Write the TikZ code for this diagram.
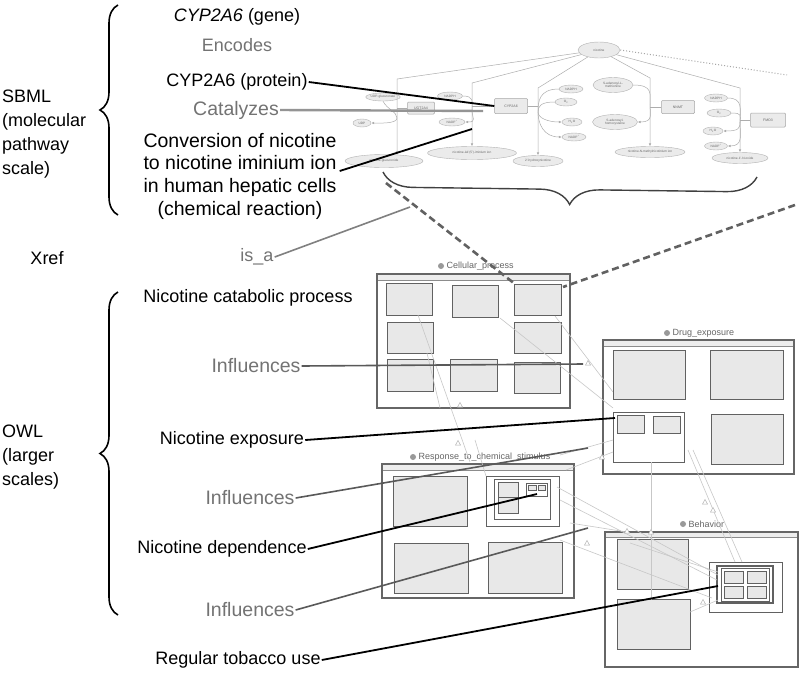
\documentclass[tikz,border=0pt]{standalone}
\usepackage{fontspec}
\setmainfont{Liberation Sans}
\usetikzlibrary{shapes.geometric,decorations.pathreplacing,arrows.meta,calc}
\newcommand\owlframe[5]{%
  \draw[obox] (#1,#2) rectangle (#3,#4);
  \fill[black!7] (#1,#2) rectangle (#3,#5);
  \draw[black!45,line width=0.5pt] (#1,#5) -- (#3,#5);
  \draw[draw=black!60,line width=1.3pt] (#1,#2) rectangle (#3,#4);}
\newcommand\owltri[2]{\draw[black!30,fill=white,line width=0.5pt] (#1,#2) ++(-2.5,2) -- ++(5,0) -- ++(-2.5,-4.5) -- cycle;}
\begin{document}
\begin{tikzpicture}[x=1pt,y=-1pt,
  lab/.style={font=\fontsize{18}{22.7}\selectfont,text=black,inner sep=1pt},
  glab/.style={lab,text=black!55},
  bglab/.style={glab,font=\fontsize{19.5}{22.7}\selectfont},
  side/.style={font=\fontsize{18}{24}\selectfont,text=black,inner sep=1pt,align=left},
  bline/.style={line width=1.8pt,black},
  gline/.style={line width=1.6pt,black!65},
  lgline/.style={line width=2.4pt,black!42},
  brc/.style={decorate,decoration={brace,amplitude=#1},line width=1.6pt,black},
  dsh/.style={line width=2.6pt,black!62,dash pattern=on 7pt off 4pt},
  obox/.style={draw=black!60,line width=1.3pt,fill=white},
  ibox/.style={draw=black!62,line width=1pt,fill=black!9},
  wbox/.style={draw=black!62,line width=1pt,fill=white},
  ttl/.style={font=\fontsize{9}{10}\selectfont,text=black!60,inner sep=0.5pt,anchor=west},
  faint/.style={draw=black!22,line width=0.6pt},
  pel/.style={ellipse,draw=black!30,fill=black!8,line width=0.4pt,inner sep=0pt,font=\fontsize{3.2}{3.6}\selectfont,text=black!60,align=center},
  pbx/.style={rectangle,rounded corners=1pt,draw=black!35,fill=black!8,line width=0.5pt,inner sep=0pt,font=\fontsize{3.5}{4}\selectfont,text=black!60},
  pl/.style={draw=black!32,line width=0.5pt},
  pa/.style={pl,-{Latex[length=3pt,width=2.6pt]}}
]
\useasboundingbox (0,0) rectangle (800,675);
\fill[white] (0,0) rectangle (800,675);

% ---------------- pathway (SBML) ----------------
\coordinate (b1) at (397,79);
\coordinate (b2) at (472,83);
\coordinate (b3) at (538,88);
\coordinate (b4) at (650,78);
\coordinate (b5) at (740,88);
\coordinate (ja) at (397,118);
\coordinate (jb) at (472,110);
\coordinate (jc) at (538,112);
\coordinate (jd) at (650,104);
\coordinate (je) at (740,122);
\coordinate (dotend) at (787,75);

\node[pel,minimum width=42pt,minimum height=16pt] (nic) at (599,50) {nicotine};
\node[pbx,minimum width=27pt,minimum height=12pt] (ugt) at (421,108) {UGT2A4};
\node[pbx,minimum width=33pt,minimum height=15pt] (cyp) at (511,106) {CYP2A6};
\node[pbx,minimum width=33pt,minimum height=13pt] (nnmt) at (678,107) {NNMT};
\node[pbx,minimum width=35pt,minimum height=14pt] (fmo) at (768,120) {FMO3};

\node[pel,minimum width=26pt,minimum height=8pt] (udpg) at (383,97) {UDP-glucuronate};
\node[pel,minimum width=18pt,minimum height=8pt] (udp) at (362,123) {UDP};
\node[pel,minimum width=78pt,minimum height=13pt] (ngl) at (384,161) {nicotine-glucuronide};
\node[pel,minimum width=25pt,minimum height=8pt] (nadpha) at (450,96) {NADPH};
\node[pel,minimum width=26pt,minimum height=8pt] (nadpa) at (452,122) {NADP\textsuperscript{+}};
\node[pel,minimum width=89pt,minimum height=13pt] (imn) at (472,153) {nicotine-Δ1'(5')-iminium ion};
\node[pel,minimum width=50pt,minimum height=11pt] (hyd) at (538,161) {2'-hydroxynicotine};
\node[pel,minimum width=24pt,minimum height=8pt] (nadphb) at (571,89) {NADPH};
\node[pel,minimum width=22pt,minimum height=8pt] (o2b) at (566,102) {O\textsubscript{2}};
\node[pel,minimum width=20pt,minimum height=8pt] (h2ob) at (572,122) {H\textsubscript{2}O};
\node[pel,minimum width=24pt,minimum height=8pt] (nadpb) at (574,137) {NADP\textsuperscript{+}};
\node[pel,minimum width=40pt,minimum height=15pt] (sam) at (613,85) {S-adenosyl-L-\\methionine};
\node[pel,minimum width=45pt,minimum height=15pt] (sah) at (615,122) {S-adenosyl-\\homocysteine};
\node[pel,minimum width=70pt,minimum height=11pt] (nmn) at (650,152) {nicotine-N-methylnicotinium ion};
\node[pel,minimum width=23pt,minimum height=8pt] (nadphc) at (716,98) {NADPH};
\node[pel,minimum width=24pt,minimum height=8pt] (o2c) at (719,113) {O\textsubscript{2}};
\node[pel,minimum width=20pt,minimum height=8pt] (h2oc) at (713,131) {H\textsubscript{2}O};
\node[pel,minimum width=23pt,minimum height=8pt] (nadpc) at (716,146) {NADP\textsuperscript{+}};
\node[pel,minimum width=56pt,minimum height=11pt] (nox) at (740,158) {nicotine-1'-N-oxide};

\draw[pa] (nic) -- (b1) -- (b1 |- ngl.north);
\draw[pa] (nic) -- (b2) -- (imn.north);
\draw[pa] (nic) -- (b3) -- (hyd.north);
\draw[pa] (nic) -- (b4) -- (nmn.north);
\draw[pa] (nic) -- (b5) -- (nox.north);
\draw[black!35,line width=1pt,dotted] (nic.east) -- (dotend);

\draw[pl] (ugt.west) -- (ugt.west -| b1);
\draw[pl] (cyp.west) -- (cyp.west -| b2);
\draw[pl] (cyp.east) -- (cyp.east -| b3);
\draw[pl] (nnmt.west) -- (nnmt.west -| b4);
\draw[pl] (fmo.west) -- (fmo.west -| b5);

\draw[pl] (udpg.south) .. controls +(4,8) and +(0,-6) .. (ja);
\draw[pa] (ja) .. controls +(0,6) and +(8,0) .. (udp.east);
\draw[pl] (nadpha.east) .. controls +(12,0) and +(0,-8) .. (jb);
\draw[pa] (jb) .. controls +(0,8) and +(12,0) .. (nadpa.east);
\draw[pl] (nadphb.west) .. controls +(-20,0) and +(0,-10) .. (jc);
\draw[pl] (o2b.west) .. controls +(-14,0) and +(0,-6) .. (jc);
\draw[pa] (jc) .. controls +(0,6) and +(-14,0) .. (h2ob.west);
\draw[pa] (jc) .. controls +(0,12) and +(-18,0) .. (nadpb.west);
\draw[pl] (sam.east) .. controls +(20,0) and +(0,-10) .. (jd);
\draw[pa] (jd) .. controls +(0,10) and +(16,0) .. (sah.east);
\draw[pl] (nadphc.east) .. controls +(16,0) and +(0,-12) .. (je);
\draw[pl] (o2c.east) .. controls +(12,0) and +(0,-6) .. (je);
\draw[pa] (je) .. controls +(0,6) and +(16,0) .. (h2oc.east);
\draw[pa] (je) .. controls +(0,12) and +(16,0) .. (nadpc.east);

% top brace under pathway
\coordinate (tbr) at (757,177);
\coordinate (tbl) at (383,172);
\draw[brc=30pt,line width=1.4pt,black!75] (tbr) -- (tbl);

% ---------------- OWL frames ----------------
\owlframe{377}{274}{570}{408}{280}
\draw[ibox] (386,283) rectangle (432,315);
\draw[ibox] (452,285) rectangle (498,317);
\draw[ibox] (514,284) rectangle (561,315);
\draw[ibox] (387,322) rectangle (433,353);
\draw[ibox] (514,322) rectangle (561,353);
\draw[ibox] (387,359) rectangle (433,391);
\draw[ibox] (450,359) rectangle (497,391);
\draw[ibox] (514,362) rectangle (560,393);
\fill[black!40] (441,266) circle (3);
\node[ttl] (t1) at (446,266) {Cellular\_process};

\owlframe{603}{340}{794}{474}{346}
\draw[ibox] (613,350) rectangle (685,399);
\draw[ibox] (710,350) rectangle (783,399);
\draw[wbox] (613,412) rectangle (684,462);
\draw[ibox] (617,415) rectangle (644,433);
\draw[ibox] (653,416) rectangle (680,433);
\draw[ibox] (711,414) rectangle (783,464);
\fill[black!40] (667,333) circle (3);
\node[ttl] (t2) at (672,333) {Drug\_exposure};

\owlframe{382}{464}{574}{598}{470}
\draw[ibox] (393,476) rectangle (467,526);
\draw[wbox] (486,476) rectangle (559,526);
\draw[wbox] (494,479) rectangle (550,519);
\draw[ibox] (498,482) rectangle (518,497);
\draw[ibox] (498,497) rectangle (518,513);
\draw[wbox,line width=0.8pt] (526,483) rectangle (547,496);
\draw[ibox,line width=0.6pt] (528,485) rectangle (536,490);
\draw[ibox,line width=0.6pt] (538,485) rectangle (545,490);
\draw[ibox] (394,543) rectangle (468,593);
\draw[ibox] (488,542) rectangle (562,593);
\fill[black!40] (413,457) circle (3);
\node[ttl] (t3) at (418,457) {Response\_to\_chemical\_stimulus};

\owlframe{605}{532}{798}{667}{537}
\draw[ibox] (617,539) rectangle (688,589);
\draw[ibox] (617,599) rectangle (690,649);
\draw[wbox] (709,562) rectangle (782,612);
\draw[wbox,line width=1.5pt] (717,566) rectangle (773,603);
\draw[wbox] (721,568) rectangle (769,601);
\draw[ibox] (724,571) rectangle (743,583);
\draw[ibox] (747,571) rectangle (766,583);
\draw[ibox] (724,586) rectangle (743,598);
\draw[ibox] (747,586) rectangle (766,598);
\fill[black!40] (683,524) circle (3);
\node[ttl] (t4) at (688,524) {Behavior};

% faint ontology links
\draw[faint] (418,315) -- (470,462);
\draw[faint] (427,353) -- (440,408);
\draw[faint] (500,318) -- (613,408);
\draw[faint] (555,316) -- (613,392);
\draw[faint] (560,455) -- (613,440);
\draw[faint] (566,470) -- (613,452);
\draw[faint] (475,440) -- (486,476);
\draw[faint] (651,462) -- (651,600);
\draw[faint] (688,450) -- (735,562);
\draw[faint] (693,450) -- (742,562);
\draw[faint] (557,487) -- (718,575);
\draw[faint] (560,500) -- (717,580);
\draw[faint] (570,523) -- (627,532);
\draw[faint] (630,543) -- (718,572);
\draw[faint] (560,540) -- (712,598);
\draw[faint] (718,600) -- (690,612);
\owltri{460}{405}
\owltri{588}{363}
\owltri{602}{457}
\owltri{705}{502}
\owltri{713}{510}
\owltri{627}{531}
\owltri{651}{532}
\owltri{703}{602}
\owltri{587}{543}
\owltri{458}{443}

% dashed xref lines
\coordinate (dl1) at (386,183);
\coordinate (dl2) at (515,284);
\coordinate (dr1) at (795,205);
\coordinate (dr2) at (563,287);
\draw[dsh] (dl1) -- (dl2);
\draw[dsh] (dr1) -- (dr2);

% ---------------- left labels ----------------
\node[side,anchor=west] (sbml) at (1,134) {SBML\\(molecular\\pathway\\scale)};
\node[side,anchor=west] (owl) at (1,457) {OWL\\(larger\\scales)};
\node[lab] (xref) at (47,258) {Xref};
\draw[brc=18pt] (118,215) -- (118,5);
\draw[brc=18pt] (118,615) -- (118,292);

\node[lab] (gene) at (237,17) {\textit{CYP2A6} (gene)};
\node[glab] (enc) at (237,45) {Encodes};
\node[lab] (prot) at (237,82) {CYP2A6 (protein)};
\node[bglab] (cat) at (236,110) {Catalyzes};
\node[lab,align=center,font=\fontsize{19.5}{22.7}\selectfont] (conv) at (240,176) {Conversion of nicotine\\to nicotine iminium ion\\in human hepatic cells\\(chemical reaction)};
\node[glab] (isa) at (257,257) {is\_a};
\node[lab] (ncp) at (248,298) {Nicotine catabolic process};
\node[bglab] (inf1) at (256,366) {Influences};
\node[lab] (nexp) at (232,440) {Nicotine exposure};
\node[bglab] (inf2) at (250,498) {Influences};
\node[lab] (ndep) at (222,549) {Nicotine dependence};
\node[bglab] (inf3) at (250,610) {Influences};
\node[lab] (rtu) at (238,660) {Regular tobacco use};

% targets
\coordinate (catend) at (483,111);
\coordinate (convend) at (472,129);
\coordinate (isaend) at (410,207);
\coordinate (inf1end) at (583,364);
\coordinate (nexpend) at (615,418);
\coordinate (inf2end) at (588,448);
\coordinate (ndepend) at (537,494);
\coordinate (inf3end) at (588,528);
\coordinate (rtuend) at (718,586);

\draw[bline] (prot.east) -- (cyp.west);
\draw[lgline] (cat.east) -- (catend);
\draw[bline] ($(conv.east)+(2,-5)$) -- (convend);
\draw[gline,black!50] (isa.east) -- (isaend);
\draw[gline] (inf1.east) -- (inf1end);
\draw[bline] (nexp.east) -- (nexpend);
\draw[gline] (inf2.east) -- (inf2end);
\draw[bline] (ndep.east) -- (ndepend);
\draw[gline] (inf3.east) -- (inf3end);
\draw[bline] (rtu.east) -- (rtuend);
\end{tikzpicture}
\end{document}
